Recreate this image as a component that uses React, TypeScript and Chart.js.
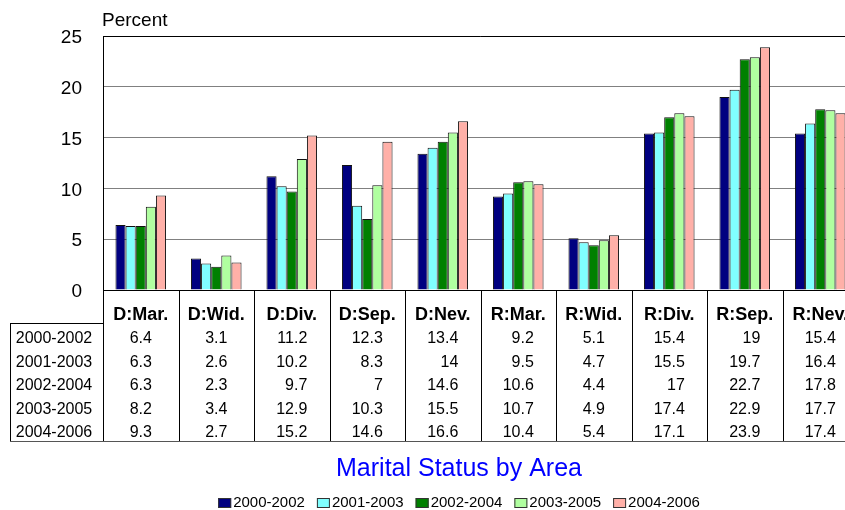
import React, { useEffect, useRef } from "react";
import { Chart, registerables } from "chart.js";

Chart.register(...registerables);

const categories = ["D:Mar.", "D:Wid.", "D:Div.", "D:Sep.", "D:Nev.", "R:Mar.", "R:Wid.", "R:Div.", "R:Sep.", "R:Nev."];
const seriesNames = ["2000-2002", "2001-2003", "2002-2004", "2003-2005", "2004-2006"];
const s2000_2002 = [6.4, 3.1, 11.2, 12.3, 13.4, 9.2, 5.1, 15.4, 19, 15.4];
const s2001_2003 = [6.3, 2.6, 10.2, 8.3, 14, 9.5, 4.7, 15.5, 19.7, 16.4];
const s2002_2004 = [6.3, 2.3, 9.7, 7, 14.6, 10.6, 4.4, 17, 22.7, 17.8];
const s2003_2005 = [8.2, 3.4, 12.9, 10.3, 15.5, 10.7, 4.9, 17.4, 22.9, 17.7];
const s2004_2006 = [9.3, 2.7, 15.2, 14.6, 16.6, 10.4, 5.4, 17.1, 23.9, 17.4];
const seriesValues = [s2000_2002, s2001_2003, s2002_2004, s2003_2005, s2004_2006];
const seriesColors = ["#000080", "#80FFFF", "#008000", "#B0FFA0", "#FFB0A8"];
const yTicks = [0, 5, 10, 15, 20, 25];
const yAxisLabel = "Percent";
const chartTitle = "Marital Status by Area";

const FONT = "'Liberation Sans', Arial, sans-serif";

const tablePlugin = {
  id: "tablePlugin",
  afterDraw(chart: any) {
    const ctx = chart.ctx;
    const ca = chart.chartArea;
    const n = categories.length;
    const catW = (ca.right - ca.left) / n;
    const tableBottom = 441;
    const headerBottom = 323;
    const tableLeft = 10;
    const midX = 459;
    ctx.save();
    ctx.strokeStyle = "#000";
    ctx.lineWidth = 1;
    ctx.beginPath();
    ctx.moveTo(ca.left, Math.round(ca.top) + 0.5);
    ctx.lineTo(ca.right, Math.round(ca.top) + 0.5);
    ctx.stroke();
    ctx.beginPath();
    ctx.moveTo(Math.round(ca.right) + 0.5, ca.top);
    ctx.lineTo(Math.round(ca.right) + 0.5, tableBottom);
    ctx.stroke();
    for (let i = 0; i <= n; i++) {
      const x = Math.round(ca.left + i * catW) + 0.5;
      ctx.beginPath();
      ctx.moveTo(x, ca.bottom);
      ctx.lineTo(x, tableBottom);
      ctx.stroke();
    }
    ctx.beginPath();
    ctx.moveTo(tableLeft, headerBottom + 0.5);
    ctx.lineTo(ca.left, headerBottom + 0.5);
    ctx.stroke();
    ctx.beginPath();
    ctx.moveTo(tableLeft + 0.5, headerBottom);
    ctx.lineTo(tableLeft + 0.5, tableBottom);
    ctx.stroke();
    ctx.strokeStyle = "#555";
    ctx.beginPath();
    ctx.moveTo(tableLeft, tableBottom + 0.5);
    ctx.lineTo(ca.right, tableBottom + 0.5);
    ctx.stroke();

    ctx.fillStyle = "#000";
    ctx.font = `16px ${FONT}`;
    ctx.textBaseline = "middle";
    const rowY0 = 339;
    const rowStep = 23.5;
    seriesNames.forEach((name, r) => {
      const y = rowY0 + r * rowStep;
      ctx.textAlign = "center";
      ctx.fillText(name, 54, y);
    });
    for (let c = 0; c < n; c++) {
      const center = ca.left + (c + 0.5) * catW;
      let maxW = 0;
      seriesValues.forEach((vals) => {
        maxW = Math.max(maxW, ctx.measureText(String(vals[c])).width);
      });
      ctx.textAlign = "right";
      seriesValues.forEach((vals, r) => {
        const y = rowY0 + r * rowStep;
        ctx.fillText(String(vals[c]), center + maxW / 2, y);
      });
    }

    ctx.font = `19px ${FONT}`;
    ctx.textAlign = "left";
    ctx.textBaseline = "middle";
    ctx.fillText(yAxisLabel, 102, 21);

    ctx.font = `25px ${FONT}`;
    ctx.fillStyle = "#0000FF";
    ctx.textAlign = "center";
    ctx.fillText(chartTitle, midX, 469);

    ctx.font = `15px ${FONT}`;
    const itemW: number[] = seriesNames.map((s) => 13 + 2 + ctx.measureText(s).width);
    const gap = 12;
    const total = itemW.reduce((a, b) => a + b, 0) + gap * (itemW.length - 1);
    let lx = midX - total / 2;
    const ly = 503;
    seriesNames.forEach((s, i) => {
      ctx.fillStyle = seriesColors[i];
      ctx.fillRect(lx, ly - 5, 13, 10);
      ctx.strokeStyle = "#333";
      ctx.lineWidth = 1;
      ctx.strokeRect(lx + 0.5, ly - 4.5, 12, 9);
      ctx.fillStyle = "#000";
      ctx.textAlign = "left";
      ctx.fillText(s, lx + 15, ly);
      lx += itemW[i] + gap;
    });
    ctx.restore();
  },
};

export default function App() {
  const ref = useRef<HTMLCanvasElement | null>(null);
  useEffect(() => {
    if (!ref.current) return;
    const chart = new Chart(ref.current, {
      type: "bar",
      data: {
        labels: categories,
        datasets: seriesNames.map((name, i) => ({
          label: name,
          data: seriesValues[i],
          backgroundColor: seriesColors[i],
          borderColor: "#111",
          borderWidth: 1,
          categoryPercentage: 0.67,
          barPercentage: 1,
        })),
      },
      options: {
        responsive: false,
        animation: false,
        devicePixelRatio: 1,
        layout: { padding: { left: 0, top: 36, right: 102, bottom: 0 } },
        plugins: {
          legend: { display: false },
          title: { display: false },
          tooltip: { enabled: false },
        },
        scales: {
          x: {
            grid: { display: false },
            border: { display: true, color: "#000" },
            ticks: {
              color: "#000",
              font: { family: FONT, size: 18, weight: "bold" },
              padding: 6,
              maxRotation: 0,
              autoSkip: false,
            },
            afterFit: (scale: any) => {
              scale.height = 220;
            },
          },
          y: {
            min: 0,
            max: 25,
            afterBuildTicks: (scale: any) => {
              scale.ticks = yTicks.map((v) => ({ value: v }));
            },
            grid: { color: "#808080", drawTicks: false },
            border: { display: true, color: "#000" },
            ticks: {
              color: "#000",
              font: { family: FONT, size: 19 },
              padding: 21,
              labelOffset: 2,
            },
            afterFit: (scale: any) => {
              scale.width = 103;
            },
          },
        },
      },
      plugins: [tablePlugin],
    });
    return () => chart.destroy();
  }, []);
  return (
    <div style={{ position: "fixed", left: 0, top: 0, width: 845, height: 510, overflow: "hidden", background: "#fff" }}>
      <canvas ref={ref} width={960} height={510} style={{ width: 960, height: 510 }} />
    </div>
  );
}
